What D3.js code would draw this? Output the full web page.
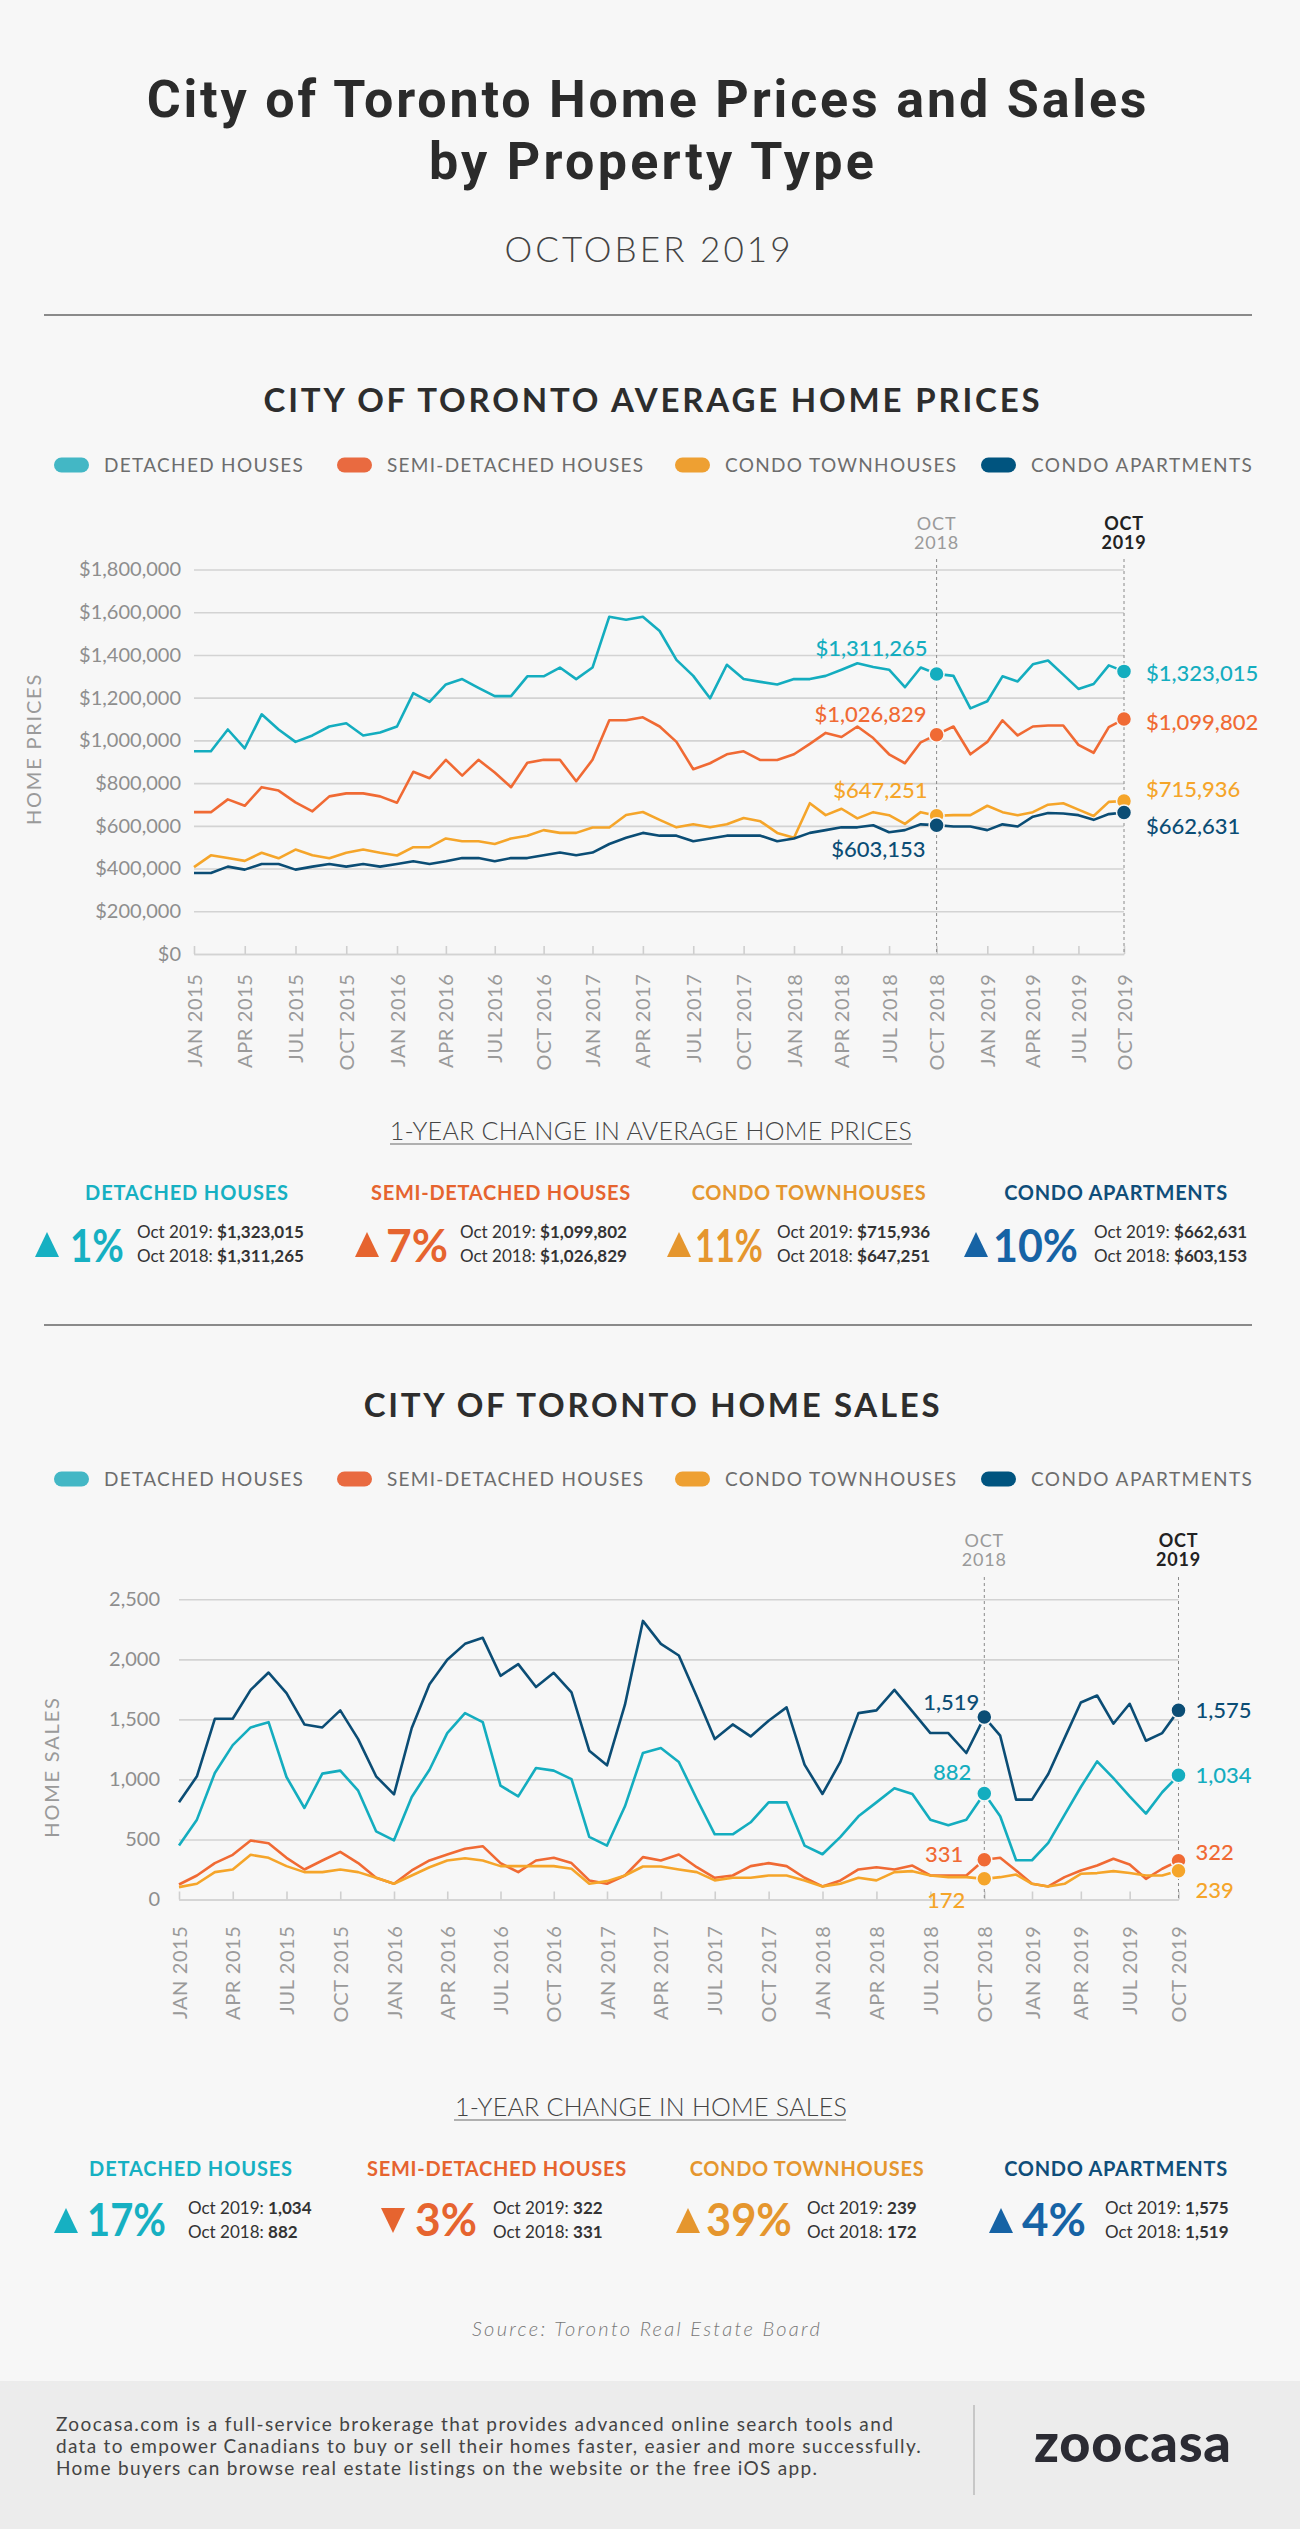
<!DOCTYPE html>
<html><head><meta charset="utf-8">
<script src="https://cdn.jsdelivr.net/npm/d3@7/dist/d3.min.js"></script>
<style>
html,body{margin:0;padding:0;background:#f7f7f7;}
svg{display:block;font-family:Lato,"Open Sans",sans-serif;}
</style></head><body>
<svg id="c" width="1300" height="2529"></svg>
<script>
// ---------------- DATA ----------------
const seriesNames = ["DETACHED HOUSES","SEMI-DETACHED HOUSES","CONDO TOWNHOUSES","CONDO APARTMENTS"];
const tickLabels = ["JAN 2015","APR 2015","JUL 2015","OCT 2015","JAN 2016","APR 2016","JUL 2016","OCT 2016","JAN 2017","APR 2017","JUL 2017","OCT 2017","JAN 2018","APR 2018","JUL 2018","OCT 2018","JAN 2019","APR 2019","JUL 2019","OCT 2019"];
const priceTicks = [0,200000,400000,600000,800000,1000000,1200000,1400000,1600000,1800000];
const salesTicks = [0,500,1000,1500,2000,2500];

const priceDetached = [949000,949000,1051000,963000,1122000,1051000,993000,1023000,1065000,1080000,1023000,1037000,1065000,1221000,1180000,1262000,1287000,1246000,1207000,1207000,1300000,1300000,1341000,1287000,1341000,1579000,1565000,1579000,1512000,1377000,1302000,1197000,1354000,1287000,1274000,1262000,1287000,1287000,1302000,1331000,1361000,1344000,1331000,1249000,1341000,1311265,1302000,1150000,1183000,1300000,1276000,1356000,1374000,1308000,1241000,1264000,1351000,1323015];
const priceSemi = [664000,664000,724000,694000,781000,765000,710000,668000,738000,752000,752000,738000,708000,853000,823000,909000,835000,909000,850000,781000,895000,909000,909000,809000,909000,1094000,1094000,1108000,1065000,993000,865000,893000,935000,949000,908000,908000,935000,984000,1035000,1016000,1065000,1011000,935000,893000,991000,1026829,1065000,935000,993000,1094000,1023000,1065000,1070000,1070000,979000,942000,1062000,1099802];
const priceTown = [407000,462000,449000,436000,474000,448000,489000,462000,448000,474000,489000,474000,461000,500000,500000,541000,528000,528000,515000,541000,554000,580000,567000,567000,592000,592000,651000,665000,628000,593000,607000,593000,607000,637000,621000,567000,544000,706000,650000,680000,635000,664000,650000,609000,664000,647251,650000,650000,694000,664000,650000,664000,699000,706000,676000,646000,712000,715936];
const priceApt = [379000,379000,409000,395000,421000,421000,395000,409000,421000,409000,421000,409000,421000,434000,421000,434000,449000,449000,434000,449000,449000,462000,475000,462000,475000,515000,544000,567000,554000,554000,528000,541000,554000,554000,554000,528000,541000,567000,580000,593000,593000,603000,570000,580000,607000,603153,597000,597000,580000,607000,597000,643000,660000,658000,650000,628000,655000,662631];

const salesDetached = [449,665,1053,1286,1433,1477,1020,762,1048,1073,906,568,493,854,1081,1386,1552,1477,948,859,1095,1073,1003,521,449,776,1220,1261,1145,837,543,543,643,809,809,449,377,521,693,809,926,879,665,618,665,882,693,327,327,471,704,937,1150,1010,859,715,893,1034];
const salesSemi = [125,200,303,372,491,469,347,250,325,397,303,181,131,242,325,375,422,444,303,228,325,347,303,159,131,200,353,325,375,269,181,200,278,303,278,181,109,159,250,269,250,283,200,200,200,331,347,242,131,109,186,242,283,339,292,172,256,322];
const salesTown = [103,131,228,250,372,347,278,228,228,250,228,181,131,200,269,325,344,325,278,278,278,278,256,131,153,200,275,275,250,228,159,181,181,200,200,159,109,131,181,159,228,236,200,186,186,172,186,208,131,109,131,214,220,236,220,200,200,239];
const salesApt = [809,1026,1505,1505,1746,1890,1719,1458,1433,1575,1336,1026,876,1428,1793,1996,2129,2179,1863,1960,1769,1888,1724,1239,1117,1622,2320,2129,2032,1691,1336,1458,1358,1489,1600,1123,879,1148,1552,1575,1746,1566,1386,1386,1220,1519,1364,832,832,1045,1344,1641,1699,1464,1630,1322,1386,1575];

const priceChangePct = [1,7,11,10];
const salesChangePct = [17,-3,39,4];

// ---------------- STYLE ----------------
const lineColors = ["#14adbf","#f06a34","#f5a52a","#0b4d75"];
const legendColors = ["#43b7c5","#e96a40","#eea032","#00547f"];
const headColors = ["#16b0c2","#e6642f","#e5962e","#0f4e7a"];
const pctColors = ["#16b0c2","#e6642f","#e5962e","#1663a5"];

const svg = d3.select("#c");
svg.append("rect").attr("width",1300).attr("height",2529).attr("fill","#f7f7f7");

// fit a text's width by letter-spacing
function fit(sel, target){
  sel.attr("letter-spacing",0);
  const len = sel.node().getComputedTextLength();
  const n = sel.text().length;
  sel.attr("letter-spacing", ((target-len)/Math.max(1,n-1)).toFixed(2));
  return sel;
}

// Title
[["City of Toronto Home Prices and Sales",648,117,1000],["by Property Type",653,179,445]].forEach(r=>{
  fit(svg.append("text").attr("x",r[1]).attr("y",r[2]).attr("text-anchor","middle").attr("font-family","Roboto,sans-serif")
    .attr("font-size",52).attr("font-weight",700).attr("fill","#2b2b2b").text(r[0]), r[3]);
});
fit(svg.append("text").attr("x",649).attr("y",262).attr("text-anchor","middle")
  .attr("font-size",35).attr("font-weight",300).attr("fill","#444").text("OCTOBER 2019"),286);
svg.append("line").attr("x1",44).attr("x2",1252).attr("y1",315).attr("y2",315).attr("stroke","#8a8a8a").attr("stroke-width",2);

function sectionTitle(txt, y, w){
  fit(svg.append("text").attr("x",653).attr("y",y).attr("text-anchor","middle")
    .attr("font-size",33).attr("font-weight",700).attr("fill","#2d2d2d").text(txt), w);
}
const legendW = [199,256,231,221];
function legend(y){
  const pillX = [54,337,675,981];
  const g = svg.append("g");
  seriesNames.forEach((n,i)=>{
    g.append("rect").attr("x",pillX[i]).attr("y",y-7.5).attr("width",35).attr("height",15).attr("rx",7.5).attr("fill",legendColors[i]);
    fit(g.append("text").attr("x",pillX[i]+50).attr("y",y+7).attr("font-size",19).attr("fill","#6d6d6d").text(n), legendW[i]);
  });
}

// ---------------- CHART BUILDER ----------------
function chart(cfg){
  const x = d3.scaleLinear().domain([0,12,24,36,45,48,57]).range(cfg.xStops);
  const y = d3.scaleLinear().domain([0,cfg.yMax]).range([cfg.y0,cfg.y1]);
  const g = svg.append("g");
  const gy = g.append("g").attr("transform",`translate(${cfg.xStops[0]},0)`)
    .call(d3.axisLeft(y).tickValues(cfg.ticks).tickFormat(cfg.fmt).tickSize(-(cfg.xStops[6]-cfg.xStops[0])).tickPadding(cfg.pad));
  gy.select(".domain").remove();
  gy.selectAll("line").attr("stroke","#d3d3d3").attr("stroke-width",1.6);
  gy.selectAll("text").attr("fill","#8e8e8e").attr("font-size",20).attr("font-family","Lato,sans-serif");

  const gx = g.append("g").attr("transform",`translate(0,${cfg.y0})`)
    .call(d3.axisBottom(x).tickValues(d3.range(0,58,3)).tickFormat((d,i)=>tickLabels[i]).tickSizeInner(-8).tickSizeOuter(0));
  gx.select(".domain").attr("stroke","#d3d3d3").attr("stroke-width",1.6);
  gx.selectAll("line").attr("stroke","#cfcfcf").attr("stroke-width",1.6);
  gx.selectAll("text").attr("transform","rotate(-90)").attr("x",-cfg.labGap).attr("y",0).attr("dy","0.35em")
    .attr("text-anchor","end").attr("fill","#9a9a9a").attr("font-size",20).attr("font-family","Lato,sans-serif").attr("letter-spacing",0.6);

  // axis title
  g.append("text").attr("transform",`translate(${cfg.titleX},${cfg.titleY}) rotate(-90)`).attr("text-anchor","middle")
    .attr("dy","0.35em").attr("font-size",20).attr("fill","#9a9a9a").attr("letter-spacing",1.8).text(cfg.title);

  // reference lines
  [45,57].forEach((m,k)=>{
    g.append("line").attr("x1",x(m)).attr("x2",x(m)).attr("y1",cfg.dashTop).attr("y2",cfg.y0)
      .attr("stroke","#8a8a8a").attr("stroke-width",1).attr("stroke-dasharray","3,3");
    const t = g.append("text").attr("x",x(m)).attr("text-anchor","middle").attr("font-size",18)
      .attr("fill",k?"#222":"#9a9a9a").attr("font-weight",k?700:400).attr("letter-spacing",0.8);
    t.append("tspan").attr("x",x(m)).attr("y",cfg.octY).text("OCT");
    t.append("tspan").attr("x",x(m)).attr("y",cfg.octY+18.5).text(k?"2019":"2018");
  });

  const line = d3.line().x((d,i)=>x(i)).y(d=>y(d));
  cfg.series.forEach((s,i)=>{
    g.append("path").datum(s).attr("d",line).attr("fill","none").attr("stroke",lineColors[i])
      .attr("stroke-width",2.6).attr("stroke-linejoin","round");
  });
  cfg.series.forEach((s,i)=>{
    [45,57].forEach(m=>{
      g.append("circle").attr("cx",x(m)).attr("cy",y(s[m])).attr("r",7.5).attr("fill",lineColors[i])
        .attr("stroke","#f7f7f7").attr("stroke-width",1.5);
    });
  });
  cfg.series.forEach((s,i)=>{
    const L = cfg.labOff[i];
    g.append("text").attr("x",x(45)+L[0]).attr("y",y(s[45])+L[1]).attr("text-anchor","end")
      .attr("font-size",22).attr("font-weight",500).attr("fill",lineColors[i]).text(cfg.vfmt(s[45]));
    g.append("text").attr("x",x(57)+L[2]).attr("y",y(s[57])+L[3]).attr("text-anchor","start")
      .attr("font-size",22).attr("font-weight",500).attr("fill",lineColors[i]).text(cfg.vfmt(s[57]));
  });
}

const headW = [203,259,234,223];
function changeRow(cfg){
  const h = svg.append("text").attr("x",651).attr("y",cfg.headY).attr("text-anchor","middle").attr("font-size",25)
    .attr("font-weight",300).attr("fill","#444").text(cfg.head);
  fit(h, cfg.ulX[1]-cfg.ulX[0]);
  svg.append("line").attr("x1",cfg.ulX[0]).attr("x2",cfg.ulX[1]).attr("y1",cfg.headY+4).attr("y2",cfg.headY+4)
    .attr("stroke","#999").attr("stroke-width",1.6);
  seriesNames.forEach((n,i)=>{
    fit(svg.append("text").attr("x",cfg.catX[i]).attr("y",cfg.catY).attr("text-anchor","middle").attr("font-size",20)
      .attr("font-weight",700).attr("fill",headColors[i]).text(n), headW[i]);
    const up = cfg.pct[i] >= 0;
    const tx = cfg.triX[i], ty = cfg.triY, w = 24, hh = 25;
    const p = up ? `M${tx},${ty+hh}L${tx+w/2},${ty}L${tx+w},${ty+hh}Z` : `M${tx},${ty}L${tx+w/2},${ty+hh}L${tx+w},${ty}Z`;
    svg.append("path").attr("d",p).attr("fill",pctColors[i]);
    const pt = svg.append("text").attr("font-size",45).attr("font-weight",700)
      .attr("fill",pctColors[i]).text(Math.abs(cfg.pct[i])+"%");
    const plen = pt.node().getComputedTextLength();
    pt.attr("transform",`translate(${cfg.pctX[i]},${cfg.pctY}) scale(${(cfg.pctW[i]/plen).toFixed(3)},1)`);
    [[ "Oct 2019: ", cfg.series[i][57]],["Oct 2018: ", cfg.series[i][45]]].forEach((r,k)=>{
      const t = svg.append("text").attr("x",cfg.txtX[i]).attr("y",cfg.txtY+k*23.5).attr("font-size",17).attr("fill","#333");
      t.append("tspan").text(r[0]);
      t.append("tspan").attr("font-weight",700).text(cfg.vfmt(r[1]));
    });
  });
}

// ---------------- PRICES ----------------
sectionTitle("CITY OF TORONTO AVERAGE HOME PRICES", 412, 776);
legend(465);
chart({
  xStops:[194,397,592.5,794,936.6,987.3,1124], y0:954, y1:569.5, yMax:1800000,
  ticks:priceTicks, fmt:d3.format("$,"), pad:13, labGap:19.5,
  title:"HOME PRICES", titleX:34, titleY:749, dashTop:559, octY:530,
  series:[priceDetached,priceSemi,priceTown,priceApt], vfmt:d3.format("$,"),
  labOff:[[-9,-18,22,10],[-10,-13,22,11],[-9,-18,22,-4],[-11,32,22,22]]
});
changeRow({
  head:"1-YEAR CHANGE IN AVERAGE HOME PRICES", headY:1140, ulX:[390,912],
  catY:1200, catX:[187,501,809,1116], triX:[35,355,667,964], triY:1232,
  pctX:[70,386,695,993], pctW:[54,62,68,85], pctY:1262, txtX:[137,460,777,1094], txtY:1238,
  pct:priceChangePct, series:[priceDetached,priceSemi,priceTown,priceApt], vfmt:d3.format("$,")
});
svg.append("line").attr("x1",44).attr("x2",1252).attr("y1",1325).attr("y2",1325).attr("stroke","#8a8a8a").attr("stroke-width",2);

// ---------------- SALES ----------------
sectionTitle("CITY OF TORONTO HOME SALES", 1417, 576);
legend(1479);
chart({
  xStops:[179,394,607,822.5,984.3,1032,1178.5], y0:1899.5, y1:1599.3, yMax:2500,
  ticks:salesTicks, fmt:d3.format(","), pad:19, labGap:26,
  title:"HOME SALES", titleX:52, titleY:1767, dashTop:1577, octY:1547,
  series:[salesDetached,salesSemi,salesTown,salesApt], vfmt:d3.format(","),
  labOff:[[-13,-14,17,8],[-21,2,17,-1],[-19,29,17,27],[-5,-7,17,8]]
});
changeRow({
  head:"1-YEAR CHANGE IN HOME SALES", headY:2116, ulX:[454,846],
  catY:2176, catX:[191,497,807,1116], triX:[54,381,676,989], triY:2208,
  pctX:[87,415,706,1022], pctW:[79,62,86,64], pctY:2236, txtX:[188,493,807,1105], txtY:2214,
  pct:salesChangePct, series:[salesDetached,salesSemi,salesTown,salesApt], vfmt:d3.format(",")
});

fit(svg.append("text").attr("x",647).attr("y",2336).attr("text-anchor","middle").attr("font-size",20)
  .attr("font-style","italic").attr("font-weight",300).attr("fill","#777").text("Source: Toronto Real Estate Board"),348);

// ---------------- FOOTER ----------------
svg.append("rect").attr("x",0).attr("y",2381).attr("width",1300).attr("height",148).attr("fill","#ececec");
const footLines = ["Zoocasa.com is a full-service brokerage that provides advanced online search tools and",
  "data to empower Canadians to buy or sell their homes faster, easier and more successfully.",
  "Home buyers can browse real estate listings on the website or the free iOS app."];
const footW = [837,865,761];
footLines.forEach((l,i)=>fit(svg.append("text").attr("x",56).attr("y",2431+i*22).attr("font-size",19).attr("fill","#444").text(l), footW[i]));
svg.append("line").attr("x1",974).attr("x2",974).attr("y1",2405).attr("y2",2495).attr("stroke","#bbb").attr("stroke-width",1.5);
fit(svg.append("text").attr("x",1034).attr("y",2462).attr("font-size",54).attr("font-weight",900)
  .attr("fill","#2b2b33").text("zoocasa"),197);
</script>
</body></html>
